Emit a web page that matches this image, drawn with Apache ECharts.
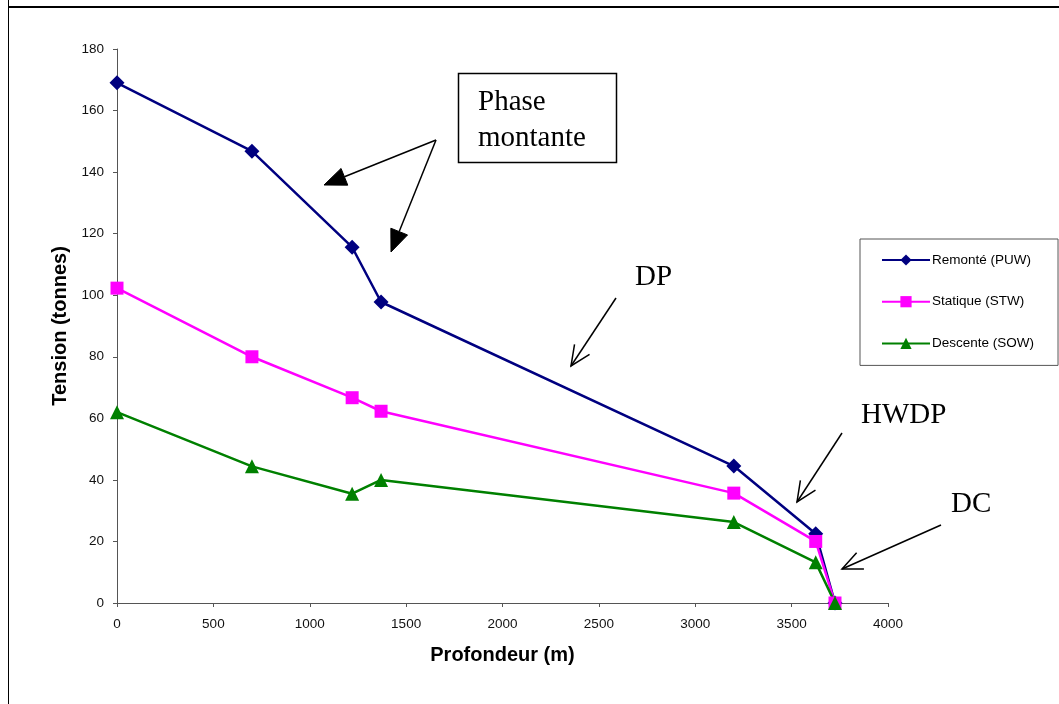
<!DOCTYPE html>
<html>
<head>
<meta charset="utf-8">
<script src="https://cdn.jsdelivr.net/npm/echarts@6/dist/echarts.min.js"></script>
<style>
html,body{margin:0;padding:0;background:#fff;}
#chart{width:1059px;height:704px;}
</style>
</head>
<body>
<div id="chart"></div>
<script>
const depths = [0, 700, 1220, 1370, 3200, 3625, 3725];
const puw = [169, 146.8, 115.6, 97.8, 44.5, 22.5, 0];
const stw = [102.3, 80, 66.7, 62.3, 35.7, 20, 0];
const sow = [62, 44.4, 35.5, 40, 26.3, 13.2, 0];
const seriesNames = ['Remonté (PUW)', 'Statique (STW)', 'Descente (SOW)'];
const xTitle = 'Profondeur (m)';
const yTitle = 'Tension (tonnes)';

function pairs(ys){ return depths.map((d,i)=>[d, ys[i]]); }

function arrow(x1,y1,x2,y2,filled,len,half){
  const dx=x2-x1, dy=y2-y1, L=Math.hypot(dx,dy), ux=dx/L, uy=dy/L;
  const bx=x2-ux*len, by=y2-uy*len, px=-uy, py=ux;
  const p1=[bx+px*half, by+py*half], p2=[bx-px*half, by-py*half];
  const st={stroke:'#000', lineWidth:1.5, fill:null};
  if(filled){
    return [
      {type:'line', shape:{x1:x1,y1:y1,x2:bx,y2:by}, style:st},
      {type:'polygon', shape:{points:[[x2,y2],p1,p2]}, style:{fill:'#000', stroke:'#000', lineWidth:1}}
    ];
  }
  return [
    {type:'line', shape:{x1:x1,y1:y1,x2:x2,y2:y2}, style:st},
    {type:'polyline', shape:{points:[p1,[x2,y2],p2]}, style:st}
  ];
}

const serif = "'Liberation Serif','Times New Roman',serif";
const sans = "'Liberation Sans',Arial,sans-serif";

const graphics = [
  {type:'line', shape:{x1:8.5,y1:0,x2:8.5,y2:704}, style:{stroke:'#000', lineWidth:1}},
  {type:'line', shape:{x1:8,y1:7,x2:1059,y2:7}, style:{stroke:'#000', lineWidth:2}},
  {type:'rect', shape:{x:458.5,y:73.5,width:158,height:89}, style:{fill:'#fff', stroke:'#000', lineWidth:1.5}},
  {type:'text', left:478, top:84, style:{text:'Phase\nmontante', font:'29px '+serif, fill:'#000', lineHeight:36}},
  {type:'text', left:635, top:263, style:{text:'DP', font:'29px '+serif, fill:'#000'}},
  {type:'text', left:861, top:401, style:{text:'HWDP', font:'29px '+serif, fill:'#000'}},
  {type:'text', left:951, top:490, style:{text:'DC', font:'29px '+serif, fill:'#000'}}
].concat(
  arrow(436,140,324,185,true,22,9),
  arrow(436,140,391,252,true,22,9),
  arrow(616,298,571,366,false,20,9),
  arrow(842,433,797,502,false,20,9),
  arrow(941,525,842,569,false,20,9)
);

const chart = echarts.init(document.getElementById('chart'));
chart.setOption({
  backgroundColor:'#fff',
  animation:false,
  grid:{left:117, top:49, right:171, bottom:101, containLabel:false},
  xAxis:{
    type:'value', min:0, max:4000, interval:500,
    name:xTitle, nameLocation:'middle', nameGap:42,
    nameTextStyle:{fontFamily:sans, fontSize:20, fontWeight:'bold', color:'#000'},
    axisLine:{show:true, onZero:false, lineStyle:{color:'#555', width:1}},
    axisTick:{show:true, length:4, lineStyle:{color:'#555'}},
    axisLabel:{fontFamily:sans, fontSize:13.5, color:'#111', margin:14, formatter:function(v){return String(v);}},
    splitLine:{show:false}
  },
  yAxis:{
    type:'value', min:0, max:180, interval:20,
    name:yTitle, nameLocation:'middle', nameGap:46, nameRotate:90,
    nameTextStyle:{fontFamily:sans, fontSize:20, fontWeight:'bold', color:'#000'},
    axisLine:{show:true, lineStyle:{color:'#555', width:1}},
    axisTick:{show:true, length:4, lineStyle:{color:'#555'}},
    axisLabel:{fontFamily:sans, fontSize:13.5, color:'#111', margin:13, formatter:function(v){return String(v);}},
    splitLine:{show:false}
  },
  legend:{
    orient:'vertical', left:860, top:239,
    padding:[14,24,15,21], itemGap:27.7, itemWidth:48, itemHeight:14,
    borderColor:'#555', borderWidth:1, backgroundColor:'#fff',
    textStyle:{fontFamily:sans, fontSize:13.5, color:'#000', padding:[0,0,0,-3]},
    data:seriesNames
  },
  series:[
    {name:seriesNames[0], type:'line', data:pairs(puw), symbol:'diamond', symbolSize:15,
     lineStyle:{color:'#000080', width:2.5}, itemStyle:{color:'#000080'}},
    {name:seriesNames[1], type:'line', data:pairs(stw), symbol:'rect', symbolSize:13,
     lineStyle:{color:'#FF00FF', width:2.5}, itemStyle:{color:'#FF00FF'}},
    {name:seriesNames[2], type:'line', data:pairs(sow), symbol:'triangle', symbolSize:14,
     lineStyle:{color:'#008000', width:2.5}, itemStyle:{color:'#008000'}}
  ],
  graphic:graphics
});
</script>
</body>
</html>
